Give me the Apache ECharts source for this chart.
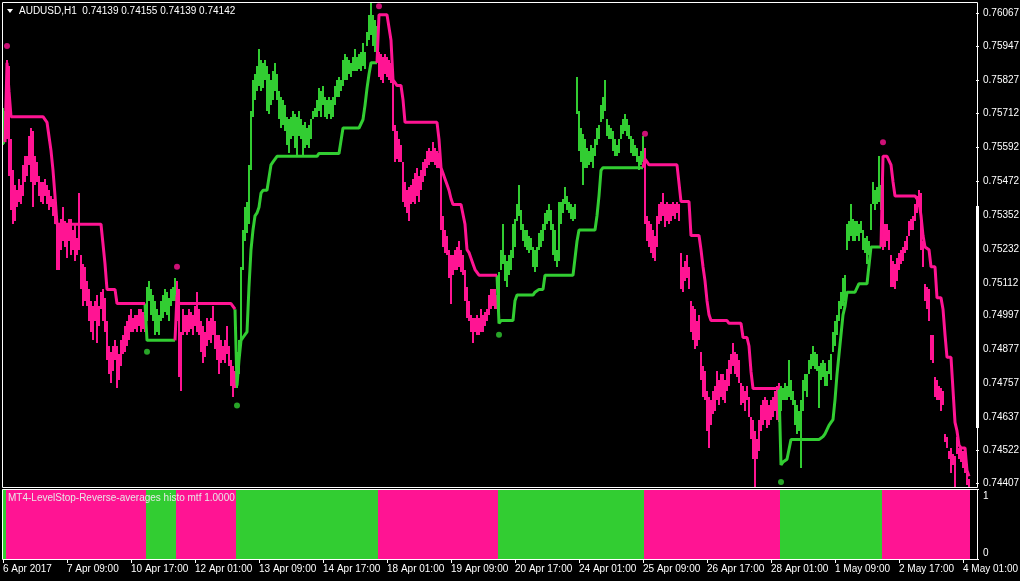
<!DOCTYPE html>
<html><head><meta charset="utf-8">
<script src="https://cdn.jsdelivr.net/npm/echarts@6/dist/echarts.min.js"></script>
<style>html,body{margin:0;padding:0;background:#000}#c{width:1020px;height:581px}</style>
</head><body><div id="c"></div>
<script>
const titleText = 'AUDUSD,H1  0.74139 0.74155 0.74139 0.74142';
const indicatorName = 'MT4-LevelStop-Reverse-averages histo mtf 1.0000';
const xTickLabels = ['6 Apr 2017','7 Apr 09:00','10 Apr 17:00','12 Apr 01:00','13 Apr 09:00','14 Apr 17:00','18 Apr 01:00','19 Apr 09:00','20 Apr 17:00','24 Apr 01:00','25 Apr 09:00','26 Apr 17:00','28 Apr 01:00','1 May 09:00','2 May 17:00','4 May 01:00'];
const xTickEvery = 32;
const yTickLabels = ['0.76067','0.75947','0.75827','0.75712','0.75592','0.75472','0.75352','0.75232','0.75112','0.74997','0.74877','0.74757','0.74637','0.74522','0.74407'];
const histTickLabels = ['0','1'];

const high = [
0.7573,0.7572,0.7590,0.7588,0.7562,0.7551,0.7546,0.7544,0.7548,0.7546,
0.7553,0.7556,0.7556,0.7563,0.7566,0.7565,0.7556,0.7554,0.7549,0.7547,
0.7547,0.7548,0.7546,0.7544,0.7542,0.7541,0.7539,0.7535,0.7532,0.7534,
0.7538,0.7533,0.7532,0.7534,0.7534,0.7530,0.7532,0.7527,0.7543,0.7521,
0.7518,0.7517,0.7512,0.7509,0.7505,0.7503,0.7505,0.7507,0.7503,0.7508,
0.7509,0.7506,0.7498,0.7489,0.7487,0.7489,0.7491,0.7489,0.7486,0.7491,
0.7493,0.7496,0.7498,0.7500,0.7502,0.7499,0.7500,0.7500,0.7502,0.7502,
0.7501,0.7500,0.7510,0.7512,0.7509,0.7507,0.7505,0.7502,0.7500,0.7505,
0.7507,0.7509,0.7508,0.7506,0.7509,0.7510,0.7513,0.7512,0.7509,0.7494,
0.7502,0.7500,0.7500,0.7502,0.7501,0.7500,0.7503,0.7508,0.7502,0.7498,
0.7496,0.7494,0.7499,0.7498,0.7499,0.7503,0.7498,0.7493,0.7493,0.7491,
0.7489,0.7491,0.7496,0.7489,0.7484,0.7482,0.7480,0.7487,0.7491,0.7517,
0.7530,0.7538,0.7540,0.7553,0.7572,0.7583,0.7585,0.7588,0.7594,0.7590,
0.7589,0.7590,0.7588,0.7585,0.7583,0.7586,0.7589,0.7585,0.7579,0.7577,
0.7576,0.7574,0.7570,0.7569,0.7570,0.7572,0.7571,0.7570,0.7572,0.7569,
0.7567,0.7568,0.7566,0.7567,0.7569,0.7572,0.7573,0.7576,0.7580,0.7579,
0.7581,0.7577,0.7576,0.7577,0.7576,0.7577,0.7581,0.7583,0.7584,0.7583,
0.7590,0.7592,0.7591,0.7590,0.7589,0.7591,0.7594,0.7591,0.7592,0.7593,
0.7596,0.7593,0.7600,0.7606,0.7610,0.7606,0.7604,0.7602,0.7593,0.7592,
0.7591,0.7592,0.7591,0.7590,0.7589,0.7583,0.7567,0.7565,0.7562,0.7560,
0.7554,0.7547,0.7544,0.7545,0.7546,0.7548,0.7550,0.7552,0.7549,0.7551,
0.7554,0.7555,0.7558,0.7559,0.7558,0.7561,0.7559,0.7558,0.7557,0.7553,
0.7535,0.7530,0.7528,0.7523,0.7521,0.7521,0.7523,0.7524,0.7526,0.7523,
0.7521,0.7516,0.7510,0.7505,0.7500,0.7499,0.7499,0.7500,0.7499,0.7502,
0.7500,0.7501,0.7502,0.7507,0.7509,0.7509,0.7509,0.7507,0.7515,0.7523,
0.7532,0.7521,0.7519,0.7521,0.7523,0.7532,0.7534,0.7539,0.7546,0.7537,
0.7532,0.7530,0.7530,0.7528,0.7527,0.7524,0.7523,0.7524,0.7529,0.7530,
0.7532,0.7536,0.7537,0.7539,0.7537,0.7532,0.7530,0.7523,0.7540,0.7540,
0.7541,0.7545,0.7542,0.7540,0.7539,0.7538,0.7539,0.7584,0.7572,0.7566,
0.7564,0.7562,0.7559,0.7558,0.7560,0.7559,0.7562,0.7566,0.7567,0.7574,
0.7577,0.7583,0.7569,0.7567,0.7566,0.7565,0.7562,0.7560,0.7562,0.7567,
0.7569,0.7571,0.7569,0.7567,0.7563,0.7562,0.7560,0.7559,0.7556,0.7558,
0.7563,0.7559,0.7535,0.7533,0.7532,0.7530,0.7528,0.7535,0.7539,0.7540,
0.7543,0.7539,0.7540,0.7539,0.7539,0.7540,0.7539,0.7540,0.7539,0.7522,
0.7517,0.7519,0.7521,0.7517,0.7505,0.7503,0.7502,0.7498,0.7500,0.7487,
0.7482,0.7480,0.7473,0.7471,0.7470,0.7473,0.7475,0.7480,0.7477,0.7479,
0.7479,0.7477,0.7481,0.7484,0.7486,0.7490,0.7487,0.7486,0.7484,0.7476,
0.7475,0.7473,0.7475,0.7471,0.7464,0.7463,0.7459,0.7456,0.7463,0.7468,
0.7470,0.7471,0.7470,0.7468,0.7470,0.7471,0.7473,0.7475,0.7476,0.7475,
0.7474,0.7476,0.7475,0.7484,0.7477,0.7473,0.7470,0.7468,0.7466,0.7470,
0.7477,0.7479,0.7479,0.7484,0.7486,0.7489,0.7487,0.7486,0.7482,0.7483,
0.7484,0.7483,0.7480,0.7484,0.7486,0.7494,0.7498,0.7500,0.7505,0.7508,
0.7513,0.7514,0.7532,0.7533,0.7539,0.7534,0.7533,0.7533,0.7532,0.7533,
0.7530,0.7527,0.7528,0.7526,0.7539,0.7547,0.7544,0.7545,0.7556,0.7546,
0.7551,0.7532,0.7532,0.7530,0.7521,0.7519,0.7518,0.7520,0.7522,0.7523,
0.7524,0.7526,0.7528,0.7533,0.7534,0.7535,0.7539,0.7542,0.7544,0.7543,
0.7526,0.7511,0.7510,0.7509,0.7493,0.7493,0.7478,0.7477,0.7475,0.7474,
0.7473,0.7458,0.7457,0.7452,0.7453,0.7451,0.7450,0.7457,0.7453,0.7453,
0.7452,0.7451,0.7444,0.7442];

const low = [
0.7560,0.7562,0.7562,0.7549,0.7537,0.7532,0.7533,0.7538,0.7540,0.7539,
0.7542,0.7547,0.7549,0.7553,0.7547,0.7538,0.7546,0.7547,0.7542,0.7540,
0.7539,0.7542,0.7539,0.7537,0.7538,0.7535,0.7532,0.7516,0.7516,0.7523,
0.7526,0.7524,0.7520,0.7526,0.7521,0.7523,0.7519,0.7521,0.7523,0.7509,
0.7503,0.7505,0.7503,0.7498,0.7494,0.7491,0.7498,0.7490,0.7496,0.7502,
0.7498,0.7494,0.7484,0.7479,0.7476,0.7480,0.7484,0.7474,0.7477,0.7482,
0.7486,0.7487,0.7489,0.7491,0.7494,0.7494,0.7495,0.7494,0.7496,0.7494,
0.7495,0.7494,0.7498,0.7505,0.7500,0.7498,0.7493,0.7494,0.7493,0.7498,
0.7499,0.7501,0.7500,0.7498,0.7503,0.7505,0.7505,0.7498,0.7478,0.7473,
0.7493,0.7494,0.7493,0.7494,0.7495,0.7493,0.7496,0.7494,0.7493,0.7487,
0.7483,0.7485,0.7489,0.7491,0.7490,0.7493,0.7488,0.7484,0.7479,0.7483,
0.7484,0.7483,0.7486,0.7482,0.7475,0.7471,0.7474,0.7474,0.7479,0.7491,
0.7516,0.7526,0.7529,0.7532,0.7551,0.7570,0.7576,0.7579,0.7581,0.7579,
0.7580,0.7583,0.7572,0.7571,0.7574,0.7576,0.7579,0.7576,0.7569,0.7566,
0.7567,0.7565,0.7560,0.7557,0.7562,0.7563,0.7559,0.7556,0.7563,0.7562,
0.7556,0.7559,0.7560,0.7559,0.7562,0.7569,0.7570,0.7570,0.7572,0.7570,
0.7574,0.7570,0.7569,0.7571,0.7569,0.7570,0.7574,0.7577,0.7577,0.7579,
0.7581,0.7583,0.7583,0.7585,0.7584,0.7586,0.7586,0.7586,0.7587,0.7586,
0.7588,0.7587,0.7595,0.7597,0.7599,0.7595,0.7593,0.7592,0.7584,0.7583,
0.7582,0.7585,0.7584,0.7583,0.7582,0.7565,0.7554,0.7555,0.7554,0.7554,
0.7540,0.7538,0.7536,0.7533,0.7539,0.7540,0.7539,0.7542,0.7540,0.7544,
0.7547,0.7549,0.7552,0.7553,0.7554,0.7554,0.7553,0.7552,0.7552,0.7530,
0.7524,0.7522,0.7521,0.7513,0.7504,0.7514,0.7516,0.7516,0.7517,0.7515,
0.7514,0.7505,0.7499,0.7498,0.7494,0.7490,0.7494,0.7493,0.7493,0.7494,
0.7494,0.7496,0.7498,0.7500,0.7502,0.7503,0.7502,0.7502,0.7498,0.7516,
0.7518,0.7512,0.7510,0.7514,0.7516,0.7520,0.7524,0.7533,0.7535,0.7530,
0.7526,0.7524,0.7523,0.7522,0.7523,0.7517,0.7515,0.7517,0.7523,0.7524,
0.7526,0.7530,0.7532,0.7533,0.7530,0.7521,0.7519,0.7517,0.7519,0.7532,
0.7536,0.7539,0.7537,0.7536,0.7534,0.7533,0.7534,0.7571,0.7558,0.7554,
0.7546,0.7552,0.7552,0.7553,0.7554,0.7552,0.7556,0.7560,0.7562,0.7568,
0.7569,0.7572,0.7563,0.7562,0.7562,0.7558,0.7556,0.7556,0.7557,0.7562,
0.7564,0.7565,0.7563,0.7562,0.7557,0.7556,0.7556,0.7554,0.7551,0.7553,
0.7554,0.7532,0.7526,0.7524,0.7522,0.7520,0.7519,0.7524,0.7532,0.7533,
0.7535,0.7531,0.7533,0.7532,0.7533,0.7535,0.7534,0.7536,0.7533,0.7509,
0.7508,0.7512,0.7513,0.7509,0.7494,0.7491,0.7488,0.7489,0.7491,0.7477,
0.7471,0.7470,0.7459,0.7453,0.7461,0.7465,0.7466,0.7470,0.7468,0.7471,
0.7470,0.7469,0.7473,0.7475,0.7479,0.7482,0.7479,0.7478,0.7476,0.7468,
0.7469,0.7466,0.7470,0.7464,0.7456,0.7449,0.7439,0.7449,0.7452,0.7459,
0.7461,0.7463,0.7460,0.7461,0.7463,0.7464,0.7466,0.7463,0.7462,0.7466,
0.7470,0.7470,0.7470,0.7471,0.7470,0.7468,0.7461,0.7458,0.7459,0.7446,
0.7466,0.7473,0.7471,0.7479,0.7481,0.7482,0.7481,0.7480,0.7467,0.7477,
0.7478,0.7475,0.7475,0.7479,0.7477,0.7487,0.7489,0.7493,0.7498,0.7502,
0.7503,0.7505,0.7523,0.7526,0.7528,0.7526,0.7526,0.7528,0.7526,0.7529,
0.7523,0.7522,0.7518,0.7521,0.7530,0.7539,0.7537,0.7539,0.7540,0.7537,
0.7523,0.7524,0.7526,0.7523,0.7510,0.7510,0.7509,0.7512,0.7516,0.7518,
0.7519,0.7522,0.7523,0.7528,0.7530,0.7530,0.7533,0.7536,0.7538,0.7523,
0.7517,0.7505,0.7502,0.7498,0.7484,0.7483,0.7471,0.7470,0.7470,0.7466,
0.7468,0.7455,0.7453,0.7449,0.7444,0.7447,0.7439,0.7451,0.7449,0.7448,
0.7446,0.7444,0.7440,0.7439];

const stop = [
0.7561,0.7561,0.7589,0.7579,0.7570,0.7570,0.7570,0.7570,0.7570,0.7570,
0.7570,0.7570,0.7570,0.7570,0.7570,0.7570,0.7570,0.7570,0.7570,0.7570,
0.7570,0.7570,0.7568,0.7563,0.7558,0.7551,0.7542,0.7532,0.7532,0.7532,
0.7532,0.7532,0.7532,0.7532,0.7532,0.7532,0.7532,0.7532,0.7532,0.7532,
0.7532,0.7532,0.7532,0.7532,0.7532,0.7532,0.7532,0.7532,0.7532,0.7532,
0.7532,0.7518,0.7509,0.7509,0.7509,0.7509,0.7509,0.7504,0.7504,0.7504,
0.7504,0.7504,0.7504,0.7504,0.7504,0.7504,0.7504,0.7504,0.7504,0.7504,
0.7504,0.7504,0.7491,0.7491,0.7491,0.7491,0.7491,0.7491,0.7491,0.7491,
0.7491,0.7491,0.7491,0.7491,0.7491,0.7491,0.7491,0.7507,0.7504,0.7504,
0.7504,0.7504,0.7504,0.7504,0.7504,0.7504,0.7504,0.7504,0.7504,0.7504,
0.7504,0.7504,0.7504,0.7504,0.7504,0.7504,0.7504,0.7504,0.7504,0.7504,
0.7504,0.7504,0.7504,0.7504,0.7504,0.7504,0.7502,0.7475,0.7484,0.7491,
0.7492,0.7493,0.7494,0.7510,0.7523,0.7530,0.7535,0.7536,0.7538,0.7543,
0.7544,0.7544,0.7544,0.7544,0.7553,0.7554,0.7555,0.7556,0.7556,0.7556,
0.7556,0.7556,0.7556,0.7556,0.7556,0.7556,0.7556,0.7556,0.7556,0.7556,
0.7556,0.7556,0.7556,0.7556,0.7556,0.7556,0.7556,0.7556,0.7557,0.7557,
0.7557,0.7557,0.7557,0.7557,0.7557,0.7557,0.7557,0.7557,0.7557,0.7557,
0.7566,0.7566,0.7566,0.7566,0.7566,0.7566,0.7566,0.7566,0.7566,0.7566,
0.7569,0.7574,0.7580,0.7585,0.7589,0.7589,0.7589,0.7589,0.7606,0.7606,
0.7606,0.7606,0.7606,0.7606,0.7597,0.7583,0.7582,0.7581,0.7581,0.7581,
0.7576,0.7568,0.7568,0.7568,0.7568,0.7568,0.7568,0.7568,0.7568,0.7568,
0.7568,0.7568,0.7568,0.7568,0.7568,0.7568,0.7568,0.7568,0.7562,0.7552,
0.7550,0.7548,0.7546,0.7544,0.7541,0.7539,0.7539,0.7539,0.7539,0.7539,
0.7539,0.7532,0.7523,0.7522,0.7520,0.7518,0.7516,0.7515,0.7514,0.7514,
0.7514,0.7514,0.7514,0.7514,0.7514,0.7514,0.7514,0.7514,0.7497,0.7498,
0.7498,0.7498,0.7498,0.7498,0.7498,0.7498,0.7505,0.7507,0.7507,0.7507,
0.7507,0.7507,0.7507,0.7507,0.7507,0.7507,0.7508,0.7508,0.7509,0.7509,
0.7509,0.7514,0.7514,0.7514,0.7514,0.7514,0.7514,0.7514,0.7514,0.7514,
0.7514,0.7514,0.7514,0.7514,0.7514,0.7514,0.7514,0.7526,0.7530,0.7530,
0.7530,0.7530,0.7530,0.7530,0.7530,0.7530,0.7530,0.7535,0.7542,0.7551,
0.7552,0.7552,0.7552,0.7552,0.7552,0.7552,0.7552,0.7552,0.7552,0.7552,
0.7552,0.7552,0.7552,0.7552,0.7552,0.7552,0.7552,0.7552,0.7552,0.7552,
0.7552,0.7555,0.7554,0.7553,0.7553,0.7553,0.7553,0.7553,0.7553,0.7553,
0.7553,0.7553,0.7553,0.7553,0.7553,0.7553,0.7553,0.7553,0.7553,0.7540,
0.7540,0.7540,0.7540,0.7540,0.7528,0.7528,0.7528,0.7528,0.7528,0.7523,
0.7517,0.7512,0.7505,0.7500,0.7498,0.7498,0.7498,0.7498,0.7498,0.7498,
0.7498,0.7498,0.7498,0.7497,0.7497,0.7497,0.7497,0.7497,0.7497,0.7497,
0.7492,0.7492,0.7492,0.7489,0.7480,0.7474,0.7474,0.7474,0.7474,0.7474,
0.7474,0.7474,0.7474,0.7474,0.7474,0.7474,0.7474,0.7474,0.7474,0.7447,
0.7448,0.7448,0.7449,0.7449,0.7456,0.7456,0.7456,0.7456,0.7456,0.7456,
0.7456,0.7456,0.7456,0.7456,0.7456,0.7456,0.7456,0.7456,0.7456,0.7456,
0.7457,0.7458,0.7458,0.7461,0.7462,0.7463,0.7470,0.7479,0.7486,0.7493,
0.7500,0.7503,0.7508,0.7508,0.7508,0.7508,0.7508,0.7508,0.7511,0.7511,
0.7511,0.7511,0.7511,0.7511,0.7524,0.7524,0.7524,0.7524,0.7524,0.7524,
0.7556,0.7556,0.7556,0.7556,0.7553,0.7547,0.7542,0.7542,0.7542,0.7542,
0.7542,0.7542,0.7542,0.7542,0.7542,0.7542,0.7542,0.7542,0.7540,0.7535,
0.7528,0.7524,0.7524,0.7523,0.7517,0.7517,0.7517,0.7506,0.7506,0.7506,
0.7502,0.7493,0.7485,0.7485,0.7485,0.7485,0.7462,0.7459,0.7454,0.7453,
0.7453,0.7453,0.7445,0.7443];

// trend runs: bar index where a run starts, and its direction (1 = up/green, -1 = down/pink)
const trendStart = [0, 2, 72, 87, 117, 188, 248, 321, 389, 440];
const trendDir   = [1, -1, 1, -1, 1, -1, 1, -1, 1, -1];
// reversal dots
const dotIdx   = [2, 72, 87, 117, 188, 248, 321, 389, 440];
const dotPrice = [0.7595, 0.7487, 0.7517, 0.7468, 0.7609, 0.7493, 0.7564, 0.7441, 0.7561];

const G = '#32CD32', P = '#FF1493';
const FONT = "'Liberation Sans', Arial, sans-serif";
const N = high.length;
const NCAT = N + 3;
const cats = Array.from({length: NCAT}, (_, i) => String(i));
const trend = [];
trendStart.forEach((s, r) => {
  const e = r + 1 < trendStart.length ? trendStart[r + 1] : N;
  for (let i = s; i < e; i++) trend[i] = trendDir[r];
});
const upLine = stop.map((v, i) => (trend[i] === 1 || trend[i + 1] === 1) ? v : null);
const dnLine = stop.map((v, i) => (trend[i] === -1 || trend[i + 1] === -1) ? v : null);
const yTickValues = yTickLabels.map(Number);
const histTickValues = histTickLabels.map(Number);

const chart = echarts.init(document.getElementById('c'), null, {renderer: 'canvas'});
chart.setOption({
  backgroundColor: '#000',
  animation: false,
  grid: [
    {left: 2, top: 2, width: 974, height: 485, outerBoundsMode: 'none'},
    {left: 2, top: 489, width: 974, height: 70, outerBoundsMode: 'none'}
  ],
  xAxis: [
    {gridIndex: 0, type: 'category', data: cats, boundaryGap: true, show: false},
    {gridIndex: 1, type: 'category', data: cats, boundaryGap: true,
     axisLine: {show: false},
     axisTick: {show: true, alignWithLabel: true, length: 4, interval: (i) => i % xTickEvery === 0, lineStyle: {color: '#fff'}},
     axisLabel: {interval: (i) => i % xTickEvery === 0, formatter: (v, i) => xTickLabels[i / xTickEvery] || '',
                 color: '#fff', fontSize: 10, fontFamily: FONT, align: 'left', margin: 5}}
  ],
  yAxis: [
    {gridIndex: 0, type: 'value', position: 'right', min: 0.74392, max: 0.76105,
     splitLine: {show: false}, axisLine: {show: false},
     axisTick: {show: true, length: 3, lineStyle: {color: '#fff'}, customValues: yTickValues},
     axisLabel: {customValues: yTickValues, formatter: (v) => v.toFixed(5), color: '#fff', fontSize: 10, fontFamily: FONT, margin: 7}},
    {gridIndex: 1, type: 'value', position: 'right', min: 0, max: 1,
     splitLine: {show: false}, axisLine: {show: false},
     axisTick: {show: true, length: 3, lineStyle: {color: '#fff'}, customValues: histTickValues},
     axisLabel: {customValues: histTickValues,
                 formatter: (v) => v === 1 ? '{a|' + histTickLabels[1] + '}' : '{b|' + histTickLabels[0] + '}',
                 rich: {a: {padding: [14, 0, 0, 0], color: '#fff', fontSize: 10, fontFamily: FONT},
                        b: {padding: [0, 0, 12, 0], color: '#fff', fontSize: 10, fontFamily: FONT}},
                 color: '#fff', fontSize: 10, fontFamily: FONT, margin: 7}}
  ],
  series: [
    {type: 'custom', xAxisIndex: 0, yAxisIndex: 0, silent: true, z: 2,
     data: high.map((h, i) => [i, h, low[i]]),
     encode: {x: 0, y: [1, 2]},
     renderItem: (params, api) => {
       const i = api.value(0);
       const a = api.coord([i, api.value(1)]);
       const b = api.coord([i, api.value(2)]);
       const y0 = Math.round(a[1]), y1 = Math.round(b[1]);
       const col = trend[params.dataIndex] > 0 ? G : P;
       return {type: 'rect', shape: {x: Math.round(a[0]) - 1, y: y0, width: 2, height: Math.max(1, y1 - y0)},
               style: {fill: col, stroke: null, opacity: 1}};
     }},
    {type: 'line', xAxisIndex: 0, yAxisIndex: 0, data: upLine, symbol: 'none', connectNulls: false, silent: true, z: 3,
     lineStyle: {color: G, width: 3}},
    {type: 'line', xAxisIndex: 0, yAxisIndex: 0, data: dnLine, symbol: 'none', connectNulls: false, silent: true, z: 3,
     lineStyle: {color: P, width: 3}},
    {type: 'scatter', xAxisIndex: 0, yAxisIndex: 0, symbolSize: 6, silent: true, z: 4,
     data: dotIdx.map((d, k) => ({value: [d, dotPrice[k]], itemStyle: {color: trend[d] > 0 ? G : P}}))},
    {type: 'bar', xAxisIndex: 1, yAxisIndex: 1, barCategoryGap: '0%', barGap: '0%', silent: true,
     data: trend.map((t) => ({value: 1, itemStyle: {color: t > 0 ? G : P}}))}
  ],
  graphic: [
    {type: 'rect', silent: true, z: 100, shape: {x: 2.5, y: 2.5, width: 975, height: 485}, style: {fill: 'none', stroke: '#fff', lineWidth: 1}},
    {type: 'rect', silent: true, z: 100, shape: {x: 2.5, y: 489.5, width: 975, height: 70}, style: {fill: 'none', stroke: '#fff', lineWidth: 1}},
    {type: 'rect', silent: true, z: 100, shape: {x: 976, y: 206, width: 3, height: 222}, style: {fill: '#fff'}},
    {type: 'polygon', silent: true, z: 100, shape: {points: [[7, 9], [13, 9], [10, 13]]}, style: {fill: '#fff'}},
    {type: 'text', silent: true, z: 100, x: 19, y: 11, style: {text: titleText, fill: '#fff', font: '10px ' + FONT, verticalAlign: 'middle'}},
    {type: 'text', silent: true, z: 100, x: 8, y: 498, style: {text: indicatorName, fill: '#e8e8e8', font: '10px ' + FONT, verticalAlign: 'middle'}}
  ]
});
</script>
</body></html>
